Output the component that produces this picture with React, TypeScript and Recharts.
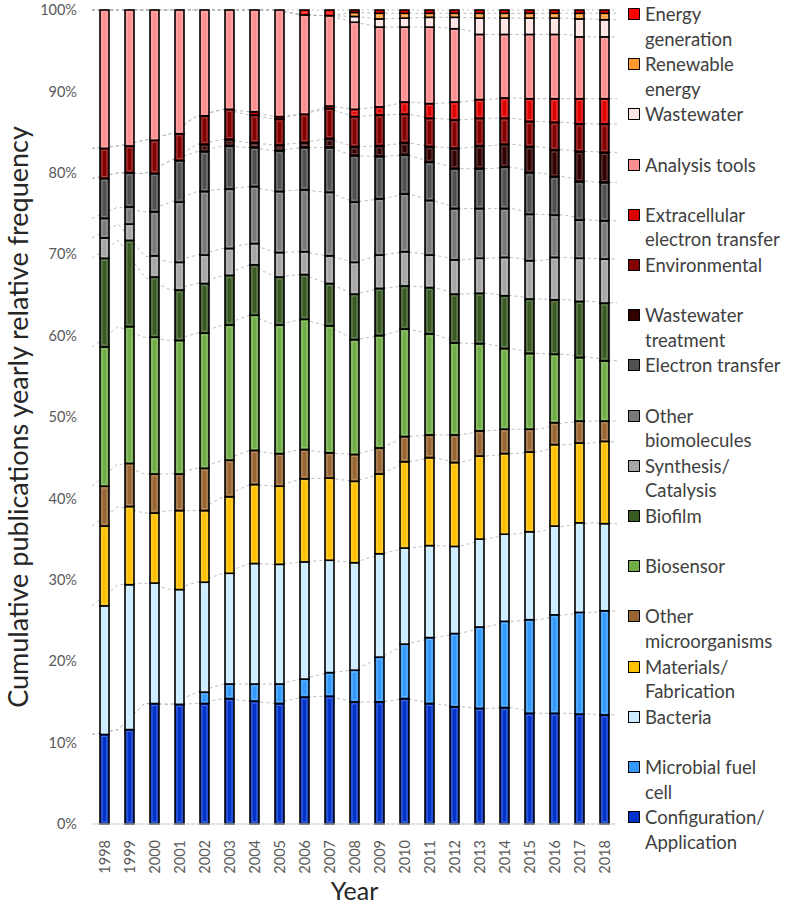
import React from 'react';
import { ComposedChart, Bar, Line, XAxis, YAxis, CartesianGrid } from 'recharts';

const years = [
  '1998', '1999', '2000', '2001', '2002', '2003', '2004', '2005', '2006', '2007', '2008',
  '2009', '2010', '2011', '2012', '2013', '2014', '2015', '2016', '2017', '2018',
];

// series listed bottom -> top of the stack
const configuration = [11.0, 11.6, 14.8, 14.7, 14.8, 15.4, 15.1, 14.8, 15.6, 15.7, 15.0, 15.0, 15.4, 14.8, 14.4, 14.2, 14.3, 13.6, 13.6, 13.5, 13.4];
const microbialFuelCell = [0, 0, 0, 0, 1.4, 1.8, 2.1, 2.4, 2.2, 2.9, 3.9, 5.5, 6.7, 8.1, 9.0, 10.0, 10.6, 11.5, 12.1, 12.5, 12.8];
const bacteria = [15.8, 17.8, 14.8, 14.1, 13.5, 13.6, 14.8, 14.7, 14.4, 13.8, 13.2, 12.7, 11.8, 11.3, 10.7, 10.8, 10.7, 10.8, 10.9, 11.0, 10.7];
const materials = [9.8, 9.6, 8.6, 9.7, 8.8, 9.4, 9.7, 9.6, 10.2, 10.1, 10.0, 9.8, 10.6, 10.8, 10.3, 10.2, 9.9, 9.8, 10.0, 9.8, 10.1];
const otherMicroorganisms = [4.9, 5.3, 4.8, 4.5, 5.2, 4.5, 4.2, 4.0, 3.6, 3.1, 3.3, 3.2, 3.1, 2.8, 3.4, 3.1, 3.0, 2.8, 2.7, 2.7, 2.5];
const biosensor = [17.1, 16.8, 16.8, 16.4, 16.6, 16.6, 16.6, 15.8, 16.0, 15.6, 14.1, 13.8, 13.2, 12.4, 11.3, 10.7, 9.9, 9.3, 8.4, 7.8, 7.4];
const biofilm = [10.9, 10.6, 7.4, 6.2, 6.1, 6.1, 6.2, 5.9, 5.5, 5.2, 5.6, 5.8, 5.3, 5.7, 6.0, 6.2, 6.5, 6.7, 6.7, 6.9, 7.1];
const synthesis = [2.5, 2.0, 2.6, 3.4, 3.5, 3.3, 2.6, 3.0, 2.8, 3.4, 3.9, 4.1, 4.2, 4.0, 4.2, 4.3, 4.7, 4.7, 5.2, 5.3, 5.4];
const otherBiomolecules = [2.4, 2.1, 5.4, 7.4, 7.8, 7.3, 7.0, 7.5, 7.6, 7.8, 7.4, 6.9, 7.1, 6.7, 6.3, 6.1, 6.0, 5.7, 5.2, 4.7, 4.7];
const electronTransfer = [4.9, 4.2, 4.7, 5.1, 4.9, 5.3, 4.8, 5.0, 5.2, 5.5, 5.7, 5.2, 4.8, 4.7, 4.9, 4.9, 5.1, 5.1, 4.7, 4.7, 4.7];
const wastewaterTreatment = [0, 0, 0, 0, 0.9, 0.8, 0.6, 0.7, 0.6, 1.1, 1.1, 1.3, 1.5, 1.9, 2.5, 2.8, 2.8, 3.2, 3.3, 3.7, 3.7];
const environmental = [3.7, 3.3, 4.1, 3.3, 3.5, 3.7, 3.4, 3.2, 3.5, 3.7, 3.7, 3.8, 3.5, 3.5, 3.5, 3.4, 3.2, 3.1, 3.4, 3.4, 3.5];
const extracellular = [0, 0, 0, 0, 0, 0, 0.4, 0.3, 0, 0.3, 0.9, 1.0, 1.5, 1.8, 2.2, 2.3, 2.5, 2.8, 2.9, 3.1, 3.1];
const analysisTools = [17.0, 16.7, 16.0, 15.2, 13.0, 12.2, 12.5, 13.1, 12.2, 11.1, 10.7, 9.8, 9.2, 9.4, 9.0, 8.0, 7.8, 7.9, 7.9, 7.6, 7.6];
const wastewater = [0, 0, 0, 0, 0, 0, 0, 0, 0, 0, 0.7, 1.0, 1.1, 1.2, 1.4, 2.0, 2.0, 2.0, 2.0, 2.2, 2.1];
const renewableEnergy = [0, 0, 0, 0, 0, 0, 0, 0, 0, 0, 0.5, 0.7, 0.6, 0.5, 0.5, 0.6, 0.6, 0.6, 0.6, 0.7, 0.8];
const energyGeneration = [0, 0, 0, 0, 0, 0, 0, 0, 0.6, 0.7, 0.3, 0.4, 0.4, 0.4, 0.4, 0.4, 0.4, 0.4, 0.4, 0.4, 0.4];

const series = [
  { key: 'config', name: 'Configuration/\nApplication', color: '#0033CC', values: configuration },
  { key: 'mfc', name: 'Microbial fuel\ncell', color: '#3399FF', values: microbialFuelCell },
  { key: 'bacteria', name: 'Bacteria', color: '#CCECFF', values: bacteria },
  { key: 'materials', name: 'Materials/\nFabrication', color: '#FFC000', values: materials },
  { key: 'otherMicro', name: 'Other\nmicroorganisms', color: '#996633', values: otherMicroorganisms },
  { key: 'biosensor', name: 'Biosensor', color: '#70AD47', values: biosensor },
  { key: 'biofilm', name: 'Biofilm', color: '#3A5A24', values: biofilm },
  { key: 'synthesis', name: 'Synthesis/\nCatalysis', color: '#A6A6A6', values: synthesis },
  { key: 'otherBio', name: 'Other\nbiomolecules', color: '#7A7A7A', values: otherBiomolecules },
  { key: 'et', name: 'Electron transfer', color: '#505050', values: electronTransfer },
  { key: 'wwt', name: 'Wastewater\ntreatment', color: '#330000', values: wastewaterTreatment },
  { key: 'env', name: 'Environmental', color: '#850000', values: environmental },
  { key: 'eet', name: 'Extracellular\nelectron transfer', color: '#DD0000', values: extracellular },
  { key: 'analysis', name: 'Analysis tools', color: '#FF8F8F', values: analysisTools },
  { key: 'ww', name: 'Wastewater', color: '#FFE4E4', values: wastewater },
  { key: 'renew', name: 'Renewable\nenergy', color: '#FF9A2E', values: renewableEnergy },
  { key: 'energy', name: 'Energy\ngeneration', color: '#FF0000', values: energyGeneration },
];

const yTicks = [0, 0.1, 0.2, 0.3, 0.4, 0.5, 0.6, 0.7, 0.8, 0.9, 1];

const rows = years.map((year, i) => {
  const row: Record<string, number | string> = { year };
  const total = series.reduce((s, ser) => s + ser.values[i], 0);
  let cum = 0;
  series.forEach((ser, j) => {
    row[ser.key] = ser.values[i];
    cum += ser.values[i];
    if (j < series.length - 1) row['cum' + j] = cum / total;
  });
  return row;
});

const FONT = 'Lato, "Open Sans", sans-serif';
const W = 627;
const H = 905;
const MARGIN = { top: 10, right: 10, bottom: 0, left: 0 };

function Segment(props: any) {
  const { x, y, width, height, fill } = props;
  if (!height || height <= 0.3) return null;
  return (
    <g>
      <rect x={x} y={y} width={width} height={height} fill={fill} stroke="#000" strokeWidth={1.6} />
      {height > 4 && (
        <rect
          x={x + 2}
          y={y + 2}
          width={width - 4}
          height={height - 4}
          fill="none"
          stroke="#fff"
          strokeOpacity={0.3}
          strokeWidth={1}
        />
      )}
    </g>
  );
}

function YearTick(props: any) {
  const { x, y, payload } = props;
  return (
    <text
      x={x}
      y={y + 8}
      transform={`rotate(-90 ${x} ${y + 8})`}
      textAnchor="end"
      dy="0.36em"
      fontSize={14.5}
      fill="#595959"
      fontFamily={FONT}
    >
      {payload.value}
    </text>
  );
}

function Legend() {
  const items = [...series].reverse();
  return (
    <div style={{ position: 'absolute', left: 627, top: 0, width: 158, fontFamily: FONT, color: '#404040' }}>
      {items.map((s, i) => (
        <div key={s.key} style={{ position: 'absolute', top: 2 + i * 50.2, left: 0, width: 160 }}>
          <div
            style={{
              position: 'absolute',
              left: 1,
              top: 6,
              width: 10,
              height: 10,
              background: s.color,
              border: '1.5px solid #000',
            }}
          />
          <div style={{ marginLeft: 18, fontSize: 18.5, lineHeight: '24.5px', whiteSpace: 'pre-line' }}>{s.name}</div>
        </div>
      ))}
    </div>
  );
}

// grid + series lines, drawn underneath the bars
function BackLayer() {
  return (
    <ComposedChart width={W} height={H} data={rows} margin={MARGIN}>
      <CartesianGrid vertical={false} stroke="#BFBFBF" strokeDasharray="2 3" />
      <XAxis dataKey="year" height={81} interval={0} tick={false} tickLine={false} axisLine={false} />
      <YAxis width={92} domain={[0, 1]} ticks={yTicks} tick={false} tickLine={false} axisLine={false} />
      {series.slice(0, -1).map((s, j) => (
        <Line
          key={'l' + j}
          dataKey={'cum' + j}
          type="linear"
          stroke="#ABABAB"
          strokeWidth={0.8}
          strokeDasharray="3 3"
          dot={false}
          activeDot={false}
          isAnimationActive={false}
        />
      ))}
    </ComposedChart>
  );
}

export default function App() {
  return (
    <div style={{ position: 'relative', width: 785, height: 905, background: '#fff' }}>
      <style>{'body{margin:0}'}</style>
      <div style={{ position: 'absolute', left: 0, top: 0 }}>
        <BackLayer />
      </div>
      <div style={{ position: 'absolute', left: 0, top: 0 }}>
        <ComposedChart
          width={W}
          height={H}
          data={rows}
          stackOffset="expand"
          barCategoryGap="32%"
          margin={MARGIN}
        >
          <XAxis
            dataKey="year"
            height={81}
            interval={0}
            tickLine={false}
            axisLine={{ stroke: '#D9D9D9' }}
            tick={<YearTick />}
            label={{
              content: (p: any) => (
                <text
                  x={p.viewBox.x + p.viewBox.width / 2}
                  y={p.viewBox.y + 76}
                  textAnchor="middle"
                  fontSize={25}
                  fill="#262626"
                  fontFamily={FONT}
                >
                  Year
                </text>
              ),
            }}
          />
          <YAxis
            width={92}
            domain={[0, 1]}
            ticks={yTicks}
            tickFormatter={(v: number) => `${Math.round(v * 100)}%`}
            tickLine={false}
            axisLine={false}
            tick={{ fontSize: 14.5, fill: '#595959', fontFamily: FONT, dx: -7 }}
            label={{
              content: (p: any) => {
                const cx = 28;
                const cy = p.viewBox.y + p.viewBox.height / 2;
                return (
                  <text
                    x={cx}
                    y={cy}
                    transform={`rotate(-90 ${cx} ${cy})`}
                    textAnchor="middle"
                    fontSize={27}
                    fill="#262626"
                    fontFamily={FONT}
                  >
                    Cumulative publications yearly relative frequency
                  </text>
                );
              },
            }}
          />
          {series.map((s) => (
            <Bar
              key={s.key}
              dataKey={s.key}
              name={s.name}
              stackId="a"
              fill={s.color}
              shape={<Segment />}
              isAnimationActive={false}
            />
          ))}
        </ComposedChart>
      </div>
      <Legend />
    </div>
  );
}
